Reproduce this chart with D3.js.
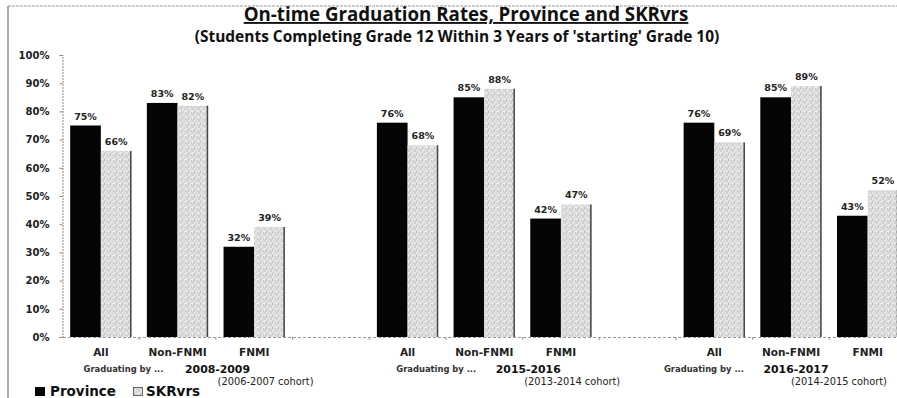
<!DOCTYPE html>
<html><head><meta charset="utf-8">
<script src="https://cdn.jsdelivr.net/npm/d3@7/dist/d3.min.js"></script>
<style>
body{margin:0;background:#fff;}
svg{display:block;font-family:"DejaVu Sans",sans-serif;}
</style></head>
<body>
<svg id="chart" width="897" height="398"></svg>
<script>
const categories = ["All", "Non-FNMI", "FNMI"];
const years = ["2008-2009", "2015-2016", "2016-2017"];
const cohorts = ["(2006-2007 cohort)", "(2013-2014 cohort)", "(2014-2015 cohort)"];
const seriesNames = ["Province", "SKRvrs"];
const province = [[75, 83, 32], [76, 85, 42], [76, 85, 43]];
const skrvrs = [[66, 82, 39], [68, 88, 47], [69, 89, 52]];
const yTicks = [0, 10, 20, 30, 40, 50, 60, 70, 80, 90, 100];

// layout
const W = 897, H = 398;
const plot = {left: 62.5, right: 906, top: 55, bottom: 337};
// offsets of footer labels relative to the Non-FNMI slot centre, per group
const footerOffsets = [
  {grad: -54, year: 40, cohort: 88},
  {grad: -48, year: 44, cohort: 88},
  {grad: -87, year: 5, cohort: 48}
];

const svg = d3.select("#chart");
const defs = svg.append("defs");
const pat = defs.append("pattern").attr("id", "stip").attr("patternUnits", "userSpaceOnUse")
  .attr("width", 6).attr("height", 6);
pat.append("rect").attr("width", 6).attr("height", 6).attr("fill", "#e0e0e0");
[[0.5,0.5,"#a8a8a8"],[3.5,1.5,"#bbb"],[2,3.5,"#999"],[5,4.5,"#b5b5b5"],[1,5,"#c4c4c4"],[4.5,3,"#f4f4f4"],[2.5,0.8,"#f6f6f6"],[0,2.5,"#fafafa"]]
  .forEach(([x,y,c]) => pat.append("rect").attr("x", x).attr("y", y).attr("width", 1).attr("height", 1).attr("fill", c));

function fit(sel, target) {
  const n = sel.node();
  const w = n.getComputedTextLength();
  const fs = parseFloat(sel.attr("font-size"));
  sel.attr("font-size", (fs * target / w).toFixed(2));
  return sel;
}

// frame
svg.append("line").attr("x1", 8).attr("x2", W).attr("y1", 6).attr("y2", 6)
  .attr("stroke", "#999").attr("stroke-dasharray", "3,1").attr("stroke-width", 1);
svg.append("line").attr("x1", 8).attr("x2", 8).attr("y1", 6).attr("y2", H)
  .attr("stroke", "#777").attr("stroke-width", 1.2);

// slots: 3 categories per group with an empty slot between groups
const slots = [];
years.forEach((y, gi) => {
  categories.forEach((c, ci) => slots.push({key: gi + "-" + ci, gi, ci, cat: c}));
  if (gi < years.length - 1) slots.push({key: "gap" + gi, gap: true});
});
const x = d3.scaleBand().domain(slots.map(s => s.key)).range([plot.left, plot.right]).padding(0);
const xs = d3.scaleBand().domain(seriesNames).range([0, x.bandwidth()]).paddingInner(0).paddingOuter(0.25);
const y = d3.scaleLinear().domain([0, 100]).range([plot.bottom, plot.top]);

// title
fit(svg.append("text").attr("x", 466).attr("y", 21).attr("text-anchor", "middle")
  .attr("font-family", "'Open Sans', sans-serif")
  .attr("font-size", 17).attr("font-weight", "bold").attr("text-decoration", "underline")
  .attr("fill", "#111").text("On-time Graduation Rates, Province and SKRvrs"), 445);
fit(svg.append("text").attr("x", 457).attr("y", 42).attr("text-anchor", "middle")
  .attr("font-family", "'Open Sans', sans-serif")
  .attr("font-size", 13).attr("font-weight", "bold").attr("fill", "#111")
  .text("(Students Completing Grade 12 Within 3 Years of 'starting' Grade 10)"), 525);

// y axis
const yAxis = svg.append("g").attr("transform", `translate(${plot.left},0)`)
  .call(d3.axisLeft(y).tickValues(yTicks).tickFormat(d => d + "%").tickSize(3).tickPadding(10));
yAxis.select(".domain").attr("stroke", "#888").attr("stroke-dasharray", "2,1");
yAxis.selectAll(".tick line").attr("stroke", "#888");
yAxis.selectAll("text").attr("font-size", 10).attr("font-weight", "bold").attr("fill", "#222")
  .attr("font-family", "'DejaVu Sans', sans-serif");

// x axis
const xAxis = svg.append("g").attr("transform", `translate(0,${plot.bottom})`)
  .call(d3.axisBottom(x).tickSize(0).tickFormat(""));
xAxis.select(".domain").attr("stroke", "#999").attr("stroke-dasharray", "3,2");
xAxis.selectAll(".tick").remove();
svg.append("g").selectAll("line").data(slots.slice(1)).join("line")
  .attr("x1", d => x(d.key)).attr("x2", d => x(d.key))
  .attr("y1", plot.bottom).attr("y2", plot.bottom + 3).attr("stroke", "#999");

// bars
const real = slots.filter(s => !s.gap);
const barData = [];
real.forEach(s => {
  barData.push({s, series: "Province", v: province[s.gi][s.ci]});
  barData.push({s, series: "SKRvrs", v: skrvrs[s.gi][s.ci]});
});
const bars = svg.append("g");
bars.selectAll("rect").data(barData).join("rect")
  .attr("x", d => x(d.s.key) + xs(d.series))
  .attr("y", d => y(d.v))
  .attr("width", xs.bandwidth())
  .attr("height", d => y(0) - y(d.v))
  .attr("fill", d => d.series === "Province" ? "#050505" : "url(#stip)");
bars.selectAll("line.edge").data(barData.filter(d => d.series === "SKRvrs")).join("line")
  .attr("class", "edge")
  .attr("x1", d => x(d.s.key) + xs(d.series) + xs.bandwidth() - 0.75)
  .attr("x2", d => x(d.s.key) + xs(d.series) + xs.bandwidth() - 0.75)
  .attr("y1", d => y(d.v)).attr("y2", y(0))
  .attr("stroke", "#444").attr("stroke-width", 1.5);

// value labels
svg.append("g").selectAll("text").data(barData).join("text")
  .attr("x", d => x(d.s.key) + xs(d.series) + xs.bandwidth() / 2)
  .attr("y", d => y(d.v) - 6)
  .attr("text-anchor", "middle").attr("font-size", 9.5).attr("font-weight", "bold")
  .attr("fill", "#222").text(d => d.v + "%");

// category labels
svg.append("g").selectAll("text").data(real).join("text")
  .attr("x", d => x(d.key) + x.bandwidth() / 2).attr("y", 356)
  .attr("text-anchor", "middle").attr("font-size", 10.5).attr("font-weight", "bold")
  .attr("fill", "#222").text(d => d.cat);

// footer labels
years.forEach((yr, gi) => {
  const c = x(gi + "-1") + x.bandwidth() / 2;
  const o = footerOffsets[gi];
  fit(svg.append("text").attr("x", c + o.grad).attr("y", 372).attr("text-anchor", "middle")
    .attr("font-size", 7.5).attr("font-weight", "bold").attr("fill", "#333").text("Graduating by ..."), 80);
  fit(svg.append("text").attr("x", c + o.year).attr("y", 373).attr("text-anchor", "middle")
    .attr("font-size", 11).attr("font-weight", "bold").attr("fill", "#111").text(yr), 65);
  fit(svg.append("text").attr("x", c + o.cohort).attr("y", 385).attr("text-anchor", "middle")
    .attr("font-size", 9).attr("fill", "#222").text(cohorts[gi]), 96);
});

// legend
const lg = svg.append("g");
lg.append("rect").attr("x", 35).attr("y", 387).attr("width", 10).attr("height", 9).attr("fill", "#050505");
lg.append("text").attr("x", 50).attr("y", 396).attr("font-size", 13.5).attr("font-weight", "bold")
  .attr("fill", "#111").text(seriesNames[0]);
lg.append("rect").attr("x", 133.5).attr("y", 387.5).attr("width", 9).attr("height", 8)
  .attr("fill", "url(#stip)").attr("stroke", "#666").attr("stroke-width", 1);
lg.append("text").attr("x", 146).attr("y", 396).attr("font-size", 13.5).attr("font-weight", "bold")
  .attr("fill", "#111").text(seriesNames[1]);
</script>
</body></html>
